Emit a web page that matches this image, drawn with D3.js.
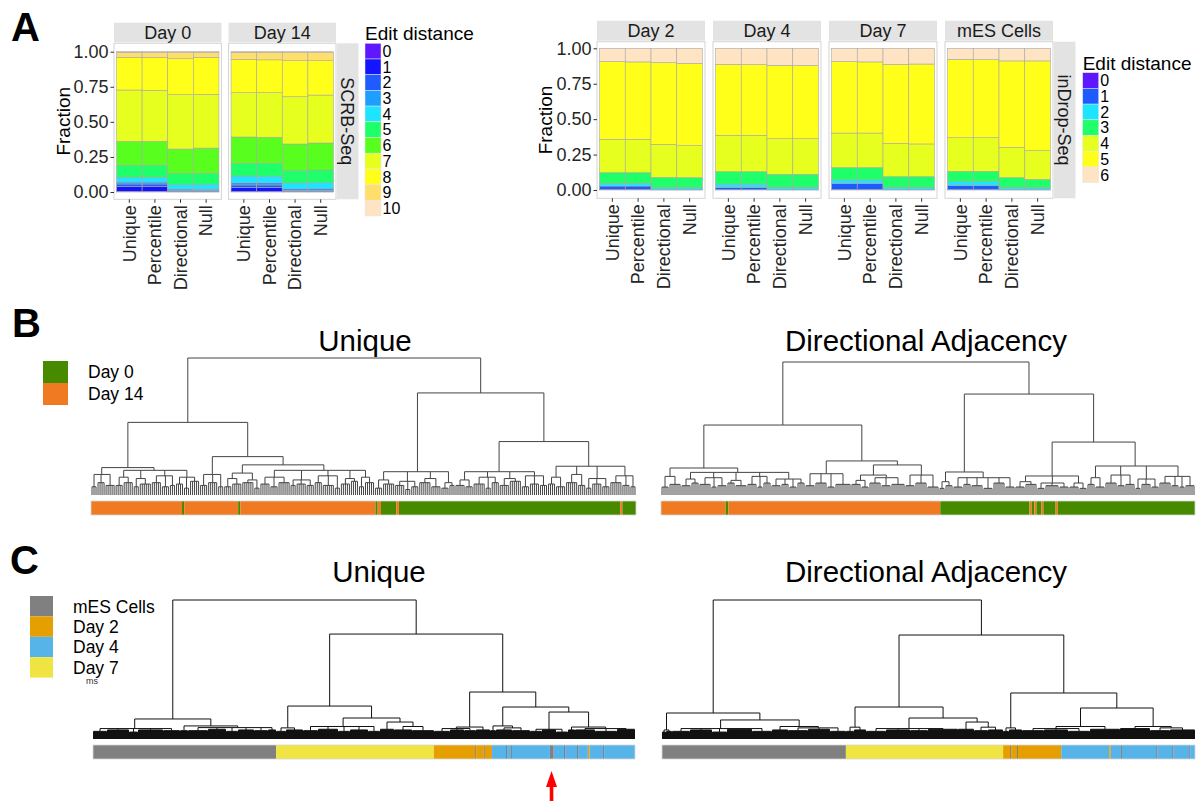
<!DOCTYPE html>
<html>
<head>
<meta charset="utf-8">
<title>UMI edit distance and clustering</title>
<script src="https://d3js.org/d3.v7.min.js"></script>
<style>
  body { margin: 0; background: #fff; }
  svg { display: block; font-family: "Liberation Sans", Arial, sans-serif; }
  .axis path.domain { display: none; }
  .axis line { stroke: #333; }
  .axis text { font-size: 18px; fill: #262626; }
</style>
</head>
<body>
<div id="chart"></div>
<script>
// ---------- panel A: fraction of UMIs per edit distance ----------
const methods = ["Unique", "Percentile", "Directional", "Null"];
const fractionTicks = [0, 0.25, 0.5, 0.75, 1];

const scrbDays = ["Day 0", "Day 14"];
const scrbDistances = ["0", "1", "2", "3", "4", "5", "6", "7", "8", "9", "10"];
const scrbColors = ["#5E17FF", "#1414FF", "#1F5BFF", "#1E9EFF", "#1EE5FF", "#1EFF6A",
                    "#58FF1E", "#E6FF1E", "#FFFF1A", "#FFDF6B", "#FFE4C4"];
// one row per method, one value per edit distance
const scrbDay0 = [
    [.005, .033, .019, .014, .034, .085, .171, .366, .233, .035, .005],
    [.005, .033, .019, .014, .034, .084, .172, .364, .234, .035, .006],
    [.001, .003, .005, .012, .032, .078, .175, .388, .256, .043, .007],
    [.001, .003, .005, .011, .035, .078, .180, .383, .264, .034, .006]
];
const scrbDay14 = [
    [.004, .029, .017, .016, .048, .090, .188, .316, .237, .050, .005],
    [.004, .029, .017, .016, .047, .091, .186, .318, .234, .052, .006],
    [.001, .003, .006, .016, .038, .091, .187, .337, .257, .057, .007],
    [.001, .003, .006, .017, .040, .090, .192, .342, .245, .057, .007]
];

const indropDays = ["Day 2", "Day 4", "Day 7", "mES Cells"];
const indropDistances = ["0", "1", "2", "3", "4", "5", "6"];
const indropColors = ["#5E17FF", "#1E5BFF", "#1EE5FF", "#1EFF6A", "#E6FF1E", "#FFFF1A", "#FFE4C4"];
const indropDay2 = [
    [.004, .024, .019, .075, .236, .548, .094],
    [.004, .024, .019, .075, .236, .546, .096],
    [.001, .003, .012, .073, .233, .577, .101],
    [.001, .003, .012, .071, .226, .581, .106]
];
const indropDay4 = [
    [.003, .016, .023, .087, .257, .501, .113],
    [.003, .016, .023, .087, .257, .499, .115],
    [.001, .003, .015, .092, .251, .518, .120],
    [.001, .003, .015, .092, .251, .516, .122]
];
const indropDay7 = [
    [.004, .043, .024, .087, .244, .504, .094],
    [.004, .043, .024, .087, .244, .502, .096],
    [.001, .003, .015, .075, .235, .558, .113],
    [.001, .003, .015, .075, .231, .564, .111]
];
const indropMES = [
    [.004, .029, .026, .073, .237, .553, .078],
    [.004, .029, .026, .073, .237, .551, .080],
    [.001, .003, .015, .068, .214, .610, .089],
    [.001, .003, .012, .059, .203, .633, .089]
];

// ---------- panels B and C: dendrograms ----------
// node = [height, ...children]; a bare number k = k single cells joined at that node
const bUniqueTree =
[100,
  [53,
    [20,
      [15, [6, 3], [9, 4], [7, 5]],
      [18, [13, [7, 4], [9, 5]], [12, [6, 3], [8, 6]], [14, [9, 5], [6, 4], [7, 3]], [13, [8, 4], [5, 3], [10, 5]]]],
    [28,
      [15, [7, 4], [9, 5], [6, 3]],
      [22,
        [16, [12, [6, 4], [8, 5]], [11, [9, 6], [5, 3]]],
        [18, [13, [8, 5], [6, 4], [9, 6]], [11, [7, 3], [8, 5], [7, 4]], [14, [9, 4], [7, 6], [5, 3]], [12, [8, 5], [10, 4]], [13, [6, 3], [9, 5]]]]]],
  [74.5,
    [17, [11, [5, 4], [8, 6]], [10, [7, 5], [4, 3], [6, 4]], [12, [9, 6], [6, 5]], [9, [5, 4], [7, 3]]],
    [39,
      [17, [11, [7, 5], [6, 4]], [13, [8, 6], [5, 3], [9, 4]], [12, [7, 5], [10, 6]], [14, [6, 4], [8, 5], [7, 4]]],
      [21, [13, [8, 4], [6, 5]], [15, [9, 6], [7, 4]], [12, [5, 3], [8, 5], [6, 4]], [14, [9, 6], [7, 4], [6, 3]]]]]];

const bDirectionalTree =
[100,
  [52.6,
    [20.3,
      [14, [6, 4], [8, 6]],
      [17, [12, [7, 5], [9, 4]], [13, [8, 6], [6, 3], [7, 5]], [11, [9, 4], [7, 6]], [14, [8, 5], [6, 3], [9, 4]], [12, [7, 5], [8, 4], [6, 4], [9, 4]]]],
    [25.6,
      [16, [7, 5], [9, 6], [6, 4], [8, 8]],
      [22.6,
        [15, [11, [8, 5], [6, 4]], [13, [9, 6], [7, 5], [8, 7]]],
        [15, [7, 5], [9, 6], [6, 6]]]]],
  [75.9,
    [17.3,
      [10, [5, 3], [7, 4]],
      [13, [6, 5], [8, 4], [7, 6], [5, 5], [9, 6], [6, 5]]],
    [39.8,
      [14.3, [10, [6, 5], [8, 6]], [9, [5, 4], [7, 7], [6, 5]], [9, [6, 5], [5, 4]]],
      [21.8, [13, [8, 4], [6, 5]], [15, [9, 6], [7, 4], [8, 5]], [12, [5, 3], [8, 5], [6, 4]], [14, [9, 6], [7, 4], [6, 3], [7, 5]]]]]];

const cUniqueTree =
[100,
  [14.4,
    [7.5, [5.5, 14], [6.5, 22], [5, 9], [6.5, 25], [6, 17]],
    [9.4, [6, 8], [8.2, [6, 20], [7, 18], [5.5, 12], [6.5, 16], [6, 14], [6.5, 8]]]],
  [75.5,
    [23.7,
      [8, [5.5, 10], [6.5, 17]],
      [15.1,
        [9, [6, 15], [7, 20], [5.5, 12], [6.5, 18], [5.5, 12]],
        [12.2, [7, 14], [9, [6.5, 18], [6, 22]]]]],
    [33.8,
      [8.6, [7.5, [5.5, 16], [6.5, 14], [6, 12]], [6.5, 14]],
      [23,
        [9.4, [6, 6], [8, [6.5, 16], [6, 18]]],
        [19.4,
          [7, [5.5, 12], [6.5, 14], [5, 12]],
          [8.6, [6.5, 7], [7.5, [6.5, 20], [5.5, 22], [7, 18]]]]]]]];

const cDirectionalTree =
[100,
  [18.7,
    [6.5, [5, 4], [5.5, 6]],
    [13.7,
      [7.5, [5.5, 18], [6.5, 22], [5, 15], [7, 25], [5.5, 20]],
      [9, [6.5, 16], [8, [6, 20], [7, 22], [5.5, 16]]]]],
  [74.8,
    [23,
      [8.5, [5.5, 8], [6.5, 12]],
      [15.1,
        [7.5, [5.5, 20], [6.5, 24], [6, 18], [7, 30]],
        [12.2, [7, 16], [8.5, [6, 14], [6.5, 15]]]]],
    [33.1,
      [8, [5.5, 6], [6.5, 13]],
      [22.3,
        [9, [7.5, [6, 22], [6.5, 24], [5.5, 22]], [7, 30]],
        [9, [7.5, 30], [8, [6, 20], [6.5, 25]]]]]]];

// sample colour bars: [group, length in permille of the leaves]
const bGroups = ["Day 0", "Day 14"];
const bColors = ["#478A00", "#EF7A22"];
const bUniqueBar = [["Day 14", 167], ["Day 0", 4], ["Day 14", 99], ["Day 0", 4], ["Day 14", 248],
    ["Day 0", 4], ["Day 14", 6], ["Day 0", 28], ["Day 14", 5], ["Day 0", 406], ["Day 14", 4], ["Day 0", 25]];
const bDirectionalBar = [["Day 14", 121], ["Day 0", 5], ["Day 14", 397], ["Day 0", 167], ["Day 14", 4],
    ["Day 0", 5], ["Day 14", 4], ["Day 0", 9], ["Day 14", 4], ["Day 0", 23], ["Day 14", 4], ["Day 0", 257]];

const cGroups = ["mES Cells", "Day 2", "Day 4", "Day 7"];
const cColors = ["#808080", "#E69F00", "#56B4E9", "#F0E442"];
const cUniqueBar = [["mES Cells", 338], ["Day 7", 291], ["Day 2", 76], ["mES Cells", 2], ["Day 2", 14],
    ["mES Cells", 2], ["Day 2", 13], ["Day 4", 26], ["mES Cells", 2], ["Day 4", 7], ["mES Cells", 2],
    ["Day 4", 70], ["mES Cells", 7], ["Day 4", 19], ["mES Cells", 2], ["Day 4", 22], ["mES Cells", 2],
    ["Day 4", 18], ["Day 2", 3], ["Day 4", 25], ["mES Cells", 2], ["Day 4", 57]];
const cDirectionalBar = [["mES Cells", 345], ["Day 7", 295], ["Day 2", 13], ["mES Cells", 2], ["Day 2", 11],
    ["mES Cells", 2], ["Day 2", 81], ["Day 4", 90], ["Day 2", 3], ["Day 4", 19], ["mES Cells", 2],
    ["Day 4", 64], ["mES Cells", 2], ["Day 4", 28], ["mES Cells", 2], ["Day 4", 30], ["mES Cells", 2], ["Day 4", 9]];
const arrowAt = 846; // misplaced mES cell in the Unique tree (permille)

// ---------- drawing ----------
const svg = d3.select("#chart").append("svg")
    .attr("width", 1203)
    .attr("height", 801);
svg.append("rect").attr("width", 1203).attr("height", 801).attr("fill", "#fff");

function drawFacetRow(cfg) {
    const fx = d3.scaleBand().domain(cfg.days).range([cfg.x0, cfg.x1]).paddingInner(cfg.gap);
    const y = d3.scaleLinear().domain([0, 1]).range([cfg.yBot, cfg.yTop]);
    const stack = d3.stack().keys(d3.range(cfg.colors.length));
    const pw = fx.bandwidth();

    cfg.days.forEach((day, k) => {
        const px = fx(day);
        const g = svg.append("g");

        g.append("rect")
            .attr("x", px).attr("y", cfg.stripTop)
            .attr("width", pw).attr("height", cfg.panelTop - cfg.stripTop - 1)
            .attr("fill", "#E3E3E3");
        g.append("text")
            .attr("x", px + pw / 2)
            .attr("y", (cfg.stripTop + cfg.panelTop - 1) / 2)
            .attr("dy", "0.35em")
            .attr("text-anchor", "middle")
            .style("font-size", "18px")
            .style("fill", "#1a1a1a")
            .text(day);

        g.append("rect")
            .attr("x", px).attr("y", cfg.panelTop)
            .attr("width", pw).attr("height", cfg.panelBot - cfg.panelTop)
            .attr("fill", "#fff").attr("stroke", "#D4D4D4");

        const bx = d3.scaleBand().domain(methods).range([px + 2.5, px + pw - 2.5]);
        const rows = cfg.tables[k].map((v, i) => Object.assign({ method: methods[i] }, v));

        g.selectAll("g.layer")
            .data(stack(rows))
            .join("g")
            .attr("class", "layer")
            .attr("fill", s => cfg.colors[s.key])
            .selectAll("rect")
            .data(s => s)
            .join("rect")
            .attr("x", d => bx(d.data.method))
            .attr("width", bx.bandwidth())
            .attr("y", d => y(d[1]))
            .attr("height", d => y(d[0]) - y(d[1]))
            .attr("stroke", "#A8A8A8")
            .attr("stroke-width", 0.6);

        g.append("g")
            .attr("class", "axis")
            .attr("transform", `translate(0,${cfg.panelBot})`)
            .call(d3.axisBottom(bx).tickSize(3.5))
            .selectAll("text")
            .attr("transform", "rotate(-90)")
            .attr("x", -6)
            .attr("y", 0)
            .attr("dy", "0.35em")
            .style("text-anchor", "end");

        if (k === 0) {
            g.append("g")
                .attr("class", "axis")
                .attr("transform", `translate(${px},0)`)
                .call(d3.axisLeft(y).tickValues(fractionTicks).tickFormat(d3.format(".2f")).tickSize(3.5).tickPadding(2));
        }
    });

    svg.append("text")
        .attr("transform", `translate(${cfg.titleX},${(cfg.panelTop + cfg.panelBot) / 2}) rotate(-90)`)
        .attr("text-anchor", "middle")
        .style("font-size", "19px")
        .text("Fraction");

    const rx = cfg.x1 + 1;
    svg.append("rect")
        .attr("x", rx).attr("y", cfg.panelTop)
        .attr("width", 21.5).attr("height", cfg.panelBot - cfg.panelTop)
        .attr("fill", "#E3E3E3");
    svg.append("text")
        .attr("transform", `translate(${rx + 10.75},${(cfg.panelTop + cfg.panelBot) / 2}) rotate(90)`)
        .attr("dy", "0.35em")
        .attr("text-anchor", "middle")
        .style("font-size", "18px")
        .style("fill", "#1a1a1a")
        .text(cfg.rowLabel);

    // legend
    const lg = svg.append("g");
    lg.append("text")
        .attr("x", cfg.legendX).attr("y", cfg.legendTitleY)
        .style("font-size", "19px")
        .text("Edit distance");
    const ky = d3.scaleBand().domain(cfg.labels).range([cfg.keyTop, cfg.keyTop + 15.7 * cfg.labels.length]);
    lg.selectAll("rect.key")
        .data(cfg.labels)
        .join("rect")
        .attr("class", "key")
        .attr("x", cfg.legendX).attr("y", d => ky(d))
        .attr("width", 16).attr("height", ky.bandwidth())
        .attr("fill", (d, i) => cfg.colors[i])
        .attr("stroke", "#E6E6E6").attr("stroke-width", 0.5);
    lg.selectAll("text.klab")
        .data(cfg.labels)
        .join("text")
        .attr("class", "klab")
        .attr("x", cfg.legendX + 17.5)
        .attr("y", d => ky(d) + ky.bandwidth() / 2)
        .attr("dy", "0.36em")
        .style("font-size", "16px")
        .text(d => d);
}

drawFacetRow({
    days: scrbDays, tables: [scrbDay0, scrbDay14], colors: scrbColors, labels: scrbDistances,
    x0: 114, x1: 336, gap: 0.062,
    yTop: 51.7, yBot: 192, panelTop: 43.3, panelBot: 199.3, stripTop: 22.7,
    titleX: 70, rowLabel: "SCRB-Seq",
    legendX: 365, legendTitleY: 40, keyTop: 43.3
});

drawFacetRow({
    days: indropDays, tables: [indropDay2, indropDay4, indropDay7, indropMES], colors: indropColors, labels: indropDistances,
    x0: 597, x1: 1053, gap: 0.069,
    yTop: 48.3, yBot: 190, panelTop: 41.7, panelBot: 198.3, stripTop: 20.7,
    titleX: 552, rowLabel: "inDrop-Seq",
    legendX: 1082.7, legendTitleY: 70, keyTop: 72.7
});

function drawDendrogram(tree, box, stroke) {
    const root = d3.hierarchy(tree, d => Array.isArray(d)
        ? d.slice(1).flatMap(c => typeof c === "number" ? Array.from({ length: c }, () => 0) : [c])
        : null);
    d3.cluster().size([1, 1]).separation(() => 1)(root);
    const x = d3.scaleLinear().domain([0, 1]).range([box.x0, box.x1]);
    const y = d3.scaleLinear().domain([0, 100]).range([box.yBase, box.yTop]);
    const h = d => Array.isArray(d.data) ? d.data[0] : 0;

    svg.append("g")
        .selectAll("path")
        .data(root.descendants().filter(d => d.children))
        .join("path")
        .attr("d", d => {
            const p = d3.path();
            const yn = y(h(d));
            d.children.forEach(c => {
                p.moveTo(x(c.x), y(h(c)));
                p.lineTo(x(c.x), yn);
            });
            p.moveTo(x(d.children[0].x), yn);
            p.lineTo(x(d.children[d.children.length - 1].x), yn);
            return p.toString();
        })
        .attr("fill", "none")
        .attr("stroke", stroke)
        .attr("stroke-width", 1);

    svg.append("text")
        .attr("x", box.titleX)
        .attr("y", box.titleY)
        .attr("text-anchor", "middle")
        .style("font-size", "29.5px")
        .text(box.title);
}

function drawColorBar(runs, groups, colors, box) {
    const x = d3.scaleLinear().domain([0, 1000]).range([box.x0, box.x1]);
    const color = d3.scaleOrdinal(groups, colors);
    let acc = 0;
    const segs = runs.map(([g, len]) => {
        const s = { g, start: acc, end: acc + len };
        acc += len;
        return s;
    });
    const g = svg.append("g");
    g.selectAll("rect")
        .data(segs)
        .join("rect")
        .attr("x", d => x(d.start))
        .attr("width", d => x(d.end) - x(d.start))
        .attr("y", box.y0)
        .attr("height", box.y1 - box.y0)
        .attr("fill", d => color(d.g));
    g.append("rect")
        .attr("x", box.x0).attr("y", box.y0)
        .attr("width", box.x1 - box.x0).attr("height", box.y1 - box.y0)
        .attr("fill", "none").attr("stroke", "#D8D8D8").attr("stroke-width", 0.8);
    return x;
}

function drawLegend(groups, colors, lx, ly, size, textX, fontSize) {
    const ky = d3.scaleBand().domain(groups).range([ly, ly + size.h * groups.length]);
    const g = svg.append("g");
    g.selectAll("rect")
        .data(groups)
        .join("rect")
        .attr("x", lx).attr("y", d => ky(d))
        .attr("width", size.w).attr("height", ky.bandwidth())
        .attr("fill", (d, i) => colors[i]);
    g.selectAll("text")
        .data(groups)
        .join("text")
        .attr("x", textX)
        .attr("y", d => ky(d) + ky.bandwidth() / 2)
        .attr("dy", "0.36em")
        .style("font-size", fontSize)
        .text(d => d);
}

// panel B
drawDendrogram(bUniqueTree, { x0: 91, x1: 636, yBase: 495, yTop: 358, title: "Unique", titleX: 365, titleY: 351 }, "#444");
drawDendrogram(bDirectionalTree, { x0: 661, x1: 1195, yBase: 495, yTop: 362, title: "Directional Adjacency", titleX: 926, titleY: 351 }, "#444");
drawColorBar(bUniqueBar, bGroups, bColors, { x0: 91, x1: 636, y0: 501, y1: 515 });
drawColorBar(bDirectionalBar, bGroups, bColors, { x0: 661, x1: 1195, y0: 501, y1: 515 });
drawLegend(bGroups, bColors, 43, 361, { w: 25, h: 22 }, 88, "17.5px");

// panel C
drawDendrogram(cUniqueTree, { x0: 93, x1: 635, yBase: 739, yTop: 600, title: "Unique", titleX: 379, titleY: 582 }, "#111");
drawDendrogram(cDirectionalTree, { x0: 662, x1: 1195, yBase: 739, yTop: 600, title: "Directional Adjacency", titleX: 926, titleY: 582 }, "#111");
const cx = drawColorBar(cUniqueBar, cGroups, cColors, { x0: 93, x1: 635, y0: 745, y1: 759 });
drawColorBar(cDirectionalBar, cGroups, cColors, { x0: 662, x1: 1195, y0: 745, y1: 759 });
drawLegend(cGroups, cColors, 30, 596, { w: 23, h: 20.4 }, 73, "17.5px");
svg.append("text").attr("x", 86).attr("y", 684).style("font-size", "9px").style("fill", "#333").text("ms");

// red arrow under the misplaced cell
const ax = cx(arrowAt);
svg.append("path")
    .attr("d", `M${ax},771 L${ax - 5.5},787 L${ax - 1.8},787 L${ax - 1.8},801 L${ax + 1.8},801 L${ax + 1.8},787 L${ax + 5.5},787 Z`)
    .attr("fill", "#FF0000");

// panel letters
[["A", 11, 41], ["B", 12, 337], ["C", 10, 574]].forEach(([t, x, y]) => {
    svg.append("text")
        .attr("x", x).attr("y", y)
        .style("font-size", "40px")
        .style("font-weight", "bold")
        .text(t);
});
</script>
</body>
</html>
